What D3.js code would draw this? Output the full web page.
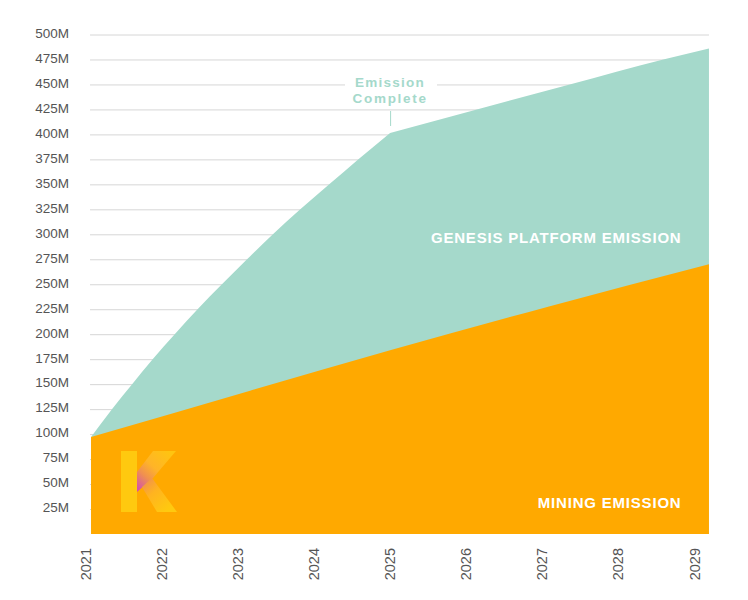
<!DOCTYPE html>
<html><head><meta charset="utf-8">
<script src="https://cdn.jsdelivr.net/npm/d3@7"></script>
<style>
html,body{margin:0;padding:0;background:#fff}
svg{display:block}
text{font-family:"Liberation Sans",Arial,sans-serif}
</style></head><body>
<svg id="c" width="748" height="600"></svg>
<script>
const yearTicks = [2021,2022,2023,2024,2025,2026,2027,2028,2029];
const valueTicks = [25,50,75,100,125,150,175,200,225,250,275,300,325,350,375,400,425,450,475,500];
const riseYears = [2021.07,2021.345,2021.61,2021.88,2022.17,2022.47,2022.79,2023.12,2023.46,2023.82,2024.2,2024.58,2025];
const riseValues = [97,125,150,175,200,225,250,275,300,325,350,375,401.5];
const tailYears = [2025,2026.14,2027.36,2028.59,2029.19];
const tailValues = [401.5,425,450,475,486];
const miningYears = [2021.07,2023.16,2025,2027.1,2029.19];
const miningValues = [97,143.5,184,228,270];
const peakYear = 2025;

const svg = d3.select("#c");
const xLabels = d3.scaleLinear().domain([2021,2029]).range([85.2,694]);
const x = d3.scaleLinear().domain([2021,2029]).range([85.7,694.5]);
const y = d3.scaleLinear().domain([0,500]).range([534,34.5]);
const leftEdge = x(riseYears[0]), rightEdge = x(tailYears[tailYears.length-1]);

const gy = svg.append("g").attr("transform",`translate(${leftEdge-1},0)`)
  .call(d3.axisLeft(y).tickValues(valueTicks).tickFormat(d=>d+"M").tickSize(-(rightEdge-leftEdge+1)).tickPadding(21));
gy.select(".domain").remove();
gy.selectAll(".tick line").attr("stroke","#d6d6d6").attr("stroke-width",1);
gy.selectAll(".tick text").attr("fill","#555").attr("font-size",13.5).attr("font-family","Liberation Sans").attr("y",-1.5);

const topEdge = d3.line().x(d=>x(d[0])).y(d=>y(d[1])).curve(d3.curveMonotoneX);
const area = d3.area().x(d=>x(d[0])).y0(y(0)).y1(d=>y(d[1])).curve(d3.curveMonotoneX);
const totalPath = topEdge(d3.zip(riseYears,riseValues)) + topEdge(d3.zip(tailYears,tailValues)).replace(/^M/,"L")
  + `L${rightEdge},${y(0)}L${leftEdge},${y(0)}Z`;
svg.append("path").attr("d",totalPath).attr("fill","#a5d9cb");
svg.append("path").datum(d3.zip(miningYears,miningValues)).attr("d",area).attr("fill","#ffa900");

const gx = svg.append("g").attr("transform",`translate(0,${y(0)})`)
  .call(d3.axisBottom(xLabels).tickValues(yearTicks).tickFormat(d3.format("d")).tickSize(0));
gx.select(".domain").remove();
gx.selectAll(".tick text").attr("fill","#555").attr("font-size",14.5).attr("font-family","Liberation Sans")
  .attr("text-anchor","end").attr("dy",0).attr("y",0).attr("x",0)
  .attr("transform","translate(5,14) rotate(-90)");

const px = x(peakYear);
svg.append("rect").attr("x",345).attr("y",76).attr("width",92).attr("height",30).attr("fill","#fff");
svg.append("line").attr("x1",px+.5).attr("x2",px+.5).attr("y1",111).attr("y2",126)
  .attr("stroke","#a5d9cb").attr("stroke-width",1);
const ann = svg.append("g").attr("text-anchor","middle").attr("fill","#a5d9cb")
  .attr("font-size",13.5).attr("font-weight",700);
ann.append("text").attr("x",px).attr("y",87.3).attr("letter-spacing",1.25).text("Emission");
ann.append("text").attr("x",px).attr("y",102.5).attr("letter-spacing",1.7).text("Complete");

const lab = svg.append("g").attr("text-anchor","end").attr("fill","#fff")
  .attr("font-size",15).attr("font-weight",700).attr("letter-spacing",.8);
lab.append("text").attr("x",681.5).attr("y",242.5).text("GENESIS PLATFORM EMISSION");
lab.append("text").attr("x",681.5).attr("y",507.5).text("MINING EMISSION");

const defs = svg.append("defs");
const g1 = defs.append("linearGradient").attr("id","ka").attr("gradientUnits","userSpaceOnUse")
  .attr("x1",16).attr("y1",38).attr("x2",50).attr("y2",2);
g1.append("stop").attr("offset","0").attr("stop-color","#d050b0");
g1.append("stop").attr("offset",".3").attr("stop-color","#f09050");
g1.append("stop").attr("offset",".55").attr("stop-color","#ffb428");
g1.append("stop").attr("offset","1").attr("stop-color","#ffc410");
const g2 = defs.append("linearGradient").attr("id","kb").attr("gradientUnits","userSpaceOnUse")
  .attr("x1",20).attr("y1",32).attr("x2",45).attr("y2",60);
g2.append("stop").attr("offset","0").attr("stop-color","#f09050");
g2.append("stop").attr("offset",".4").attr("stop-color","#ffb320");
g2.append("stop").attr("offset","1").attr("stop-color","#ffc90f");
const logo = svg.append("g").attr("transform","translate(121,451)");
logo.append("path").attr("d","M0 0H16V61H0Z").attr("fill","#ffc90f");
logo.append("path").attr("d","M32 0H55L32 27L16 41V21Z").attr("fill","url(#ka)");
logo.append("path").attr("d","M21 36L31 27L56 61H36Z").attr("fill","url(#kb)");
</script>
</body></html>
